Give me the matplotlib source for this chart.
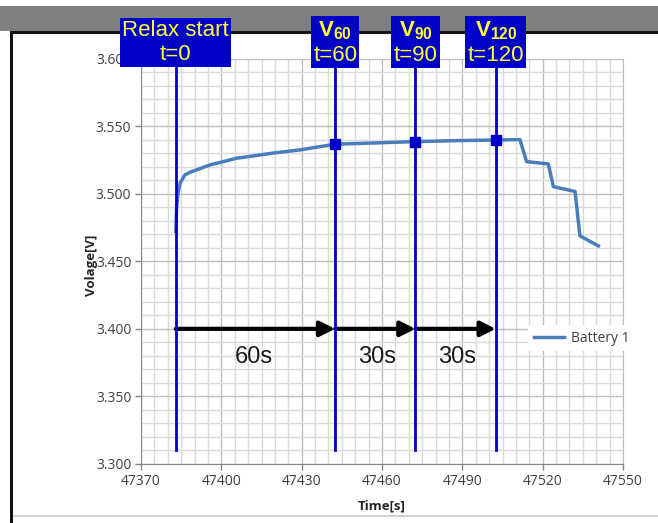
"""
Relaxation voltage of Battery 1 after current interruption, with the
V60 / V90 / V120 sampling points marked on the curve.
"""

import matplotlib
matplotlib.use("Agg")
import matplotlib.pyplot as plt
from matplotlib.patches import Rectangle
from matplotlib.lines import Line2D
from matplotlib.ticker import MultipleLocator, FormatStrFormatter
from matplotlib import transforms

# ---------------------------------------------------------------------- #
# Data
# ---------------------------------------------------------------------- #
time_s = [47383.0, 47383.3, 47383.8, 47384.6, 47386.4, 47388.5, 47390.8,
          47395.8, 47400.7, 47405.7, 47410.1, 47420.0, 47429.4, 47442.5,
          47457.0, 47472.5, 47487.0, 47502.5, 47511.5, 47514.0, 47522.1,
          47524.0, 47532.1, 47533.9, 47540.8]
voltage = [3.472, 3.490, 3.500, 3.5078, 3.5139, 3.5160, 3.5176,
           3.5213, 3.5237, 3.5262, 3.5274, 3.5302, 3.5324, 3.5366,
           3.5375, 3.5385, 3.5392, 3.5397, 3.5400, 3.5237, 3.5220,
           3.5052, 3.5016, 3.4688, 3.4614]

mark_times = [47383.0, 47442.5, 47472.5, 47502.5]
mark_labels = ["Relax start\nt=0",
               "$\\mathbf{V_{60}}$\nt=60",
               "$\\mathbf{V_{90}}$\nt=90",
               "$\\mathbf{V_{120}}$\nt=120"]
sample_times = [47442.5, 47472.5, 47502.5]
sample_volts = [3.5366, 3.5385, 3.5397]

span_labels = ["60s", "30s", "30s"]
span_text_x = [47412.0, 47458.0, 47488.0]
arrow_v = 3.400

series_name = "Battery 1"

# ---------------------------------------------------------------------- #
# Figure
# ---------------------------------------------------------------------- #
W, H, DPI = 658, 523, 100
LINE_BLUE = "#4A7EBB"
DARK_BLUE = "#0000C8"

plt.rcParams["mathtext.fontset"] = "custom"
plt.rcParams["mathtext.rm"] = "Liberation Sans"
plt.rcParams["mathtext.bf"] = "Liberation Sans:bold"
plt.rcParams["mathtext.it"] = "Liberation Sans:italic"

fig = plt.figure(figsize=(W / DPI, H / DPI), dpi=DPI)
fig.patch.set_facecolor("white")


def px_rect(x0, y0, x1, y1, color):
    """Rectangle given in pixel coords (origin top-left)."""
    fig.add_artist(Rectangle((x0 / W, 1 - y1 / H), (x1 - x0) / W, (y1 - y0) / H,
                             transform=fig.transFigure, fc=color, ec="none",
                             zorder=-5))


# screenshot frame: grey band, black border, faint bottom edge
px_rect(0, 6, W, 31, "#808080")
px_rect(10, 31, W, 34, "#111111")
px_rect(10, 31, 13, H, "#111111")
px_rect(13, 515, W, 517, "#D0D0D0")

ax = fig.add_axes([141 / W, 1 - 464 / H, (623 - 141) / W, (464 - 58.5) / H])
ax.set_xlim(47370, 47550)
ax.set_ylim(3.300, 3.600)

ax.xaxis.set_major_locator(MultipleLocator(30))
ax.xaxis.set_minor_locator(MultipleLocator(5))
ax.yaxis.set_major_locator(MultipleLocator(0.05))
ax.yaxis.set_minor_locator(MultipleLocator(0.01))
ax.xaxis.set_major_formatter(FormatStrFormatter("%d"))
ax.yaxis.set_major_formatter(FormatStrFormatter("%.3f"))

ax.set_axisbelow(True)
ax.grid(which="minor", color="#DADADA", lw=1.0)
ax.grid(which="major", color="#BDBDBD", lw=1.0)
ax.tick_params(which="major", direction="out", length=4, width=1,
               color="#868686", labelcolor="#404040", labelsize=10, pad=3)
ax.tick_params(which="minor", length=0)
for lab in ax.get_xticklabels() + ax.get_yticklabels():
    lab.set_fontfamily("Open Sans")
for side in ("left", "bottom"):
    ax.spines[side].set_color("#868686")
for side in ("top", "right"):
    ax.spines[side].set_color("#BDBDBD")

ax.set_xlabel("Time[s]", fontfamily="Open Sans", fontweight="bold",
              fontsize=9.5, color="#262626")
ax.set_ylabel("Volage[V]", fontfamily="Open Sans", fontweight="bold",
              fontsize=9.5, color="#262626")
ax.xaxis.set_label_coords(0.5, -0.088)
ax.yaxis.set_label_coords(-0.09, 0.49)

# vertical markers
for t in mark_times:
    ax.plot([t, t], [3.310, 3.600], color=DARK_BLUE, lw=2, zorder=4,
            clip_on=False)

# voltage curve and sample points
ax.plot(time_s, voltage, color=LINE_BLUE, lw=2.5, zorder=3)
ax.plot(sample_times, sample_volts, ls="none", marker="s", ms=7.5,
        color=DARK_BLUE, zorder=5)

# interval arrows
for t0, t1 in zip(mark_times[:-1], mark_times[1:]):
    ax.annotate("", xy=(t1, arrow_v), xytext=(t0, arrow_v),
                arrowprops=dict(arrowstyle="-|>,head_length=0.9,head_width=0.45",
                                color="black", lw=3, shrinkA=0, shrinkB=0,
                                mutation_scale=10),
                zorder=3)
for x, s in zip(span_text_x, span_labels):
    ax.text(x, 3.3794, s, ha="center", va="center", fontsize=17,
            fontfamily="Liberation Sans", color="#1A1A1A", zorder=6)

# title boxes above each marker line
blend = transforms.blended_transform_factory(ax.transData, fig.transFigure)
for t, s in zip(mark_times, mark_labels):
    ax.text(t, 1 - 42.5 / H, s, transform=blend, ha="center", va="center",
            fontsize=16, fontfamily="Liberation Sans", color="#FFFF33",
            linespacing=1.2, clip_on=False, zorder=10,
            bbox=dict(boxstyle="square,pad=0.1", fc=DARK_BLUE, ec="none"))

handle = Line2D([], [], color=LINE_BLUE, lw=2.5)
leg = fig.legend([handle], [series_name], loc="center left",
                 bbox_to_anchor=(521 / W, 1 - 338 / H), frameon=True,
                 facecolor="white", edgecolor="none", framealpha=1,
                 fancybox=False, handlelength=2.2, handletextpad=0.5,
                 borderpad=0.4, prop={"family": "Open Sans", "size": 10})
for txt in leg.get_texts():
    txt.set_color("#404040")

fig.savefig("out.png", dpi=DPI)
